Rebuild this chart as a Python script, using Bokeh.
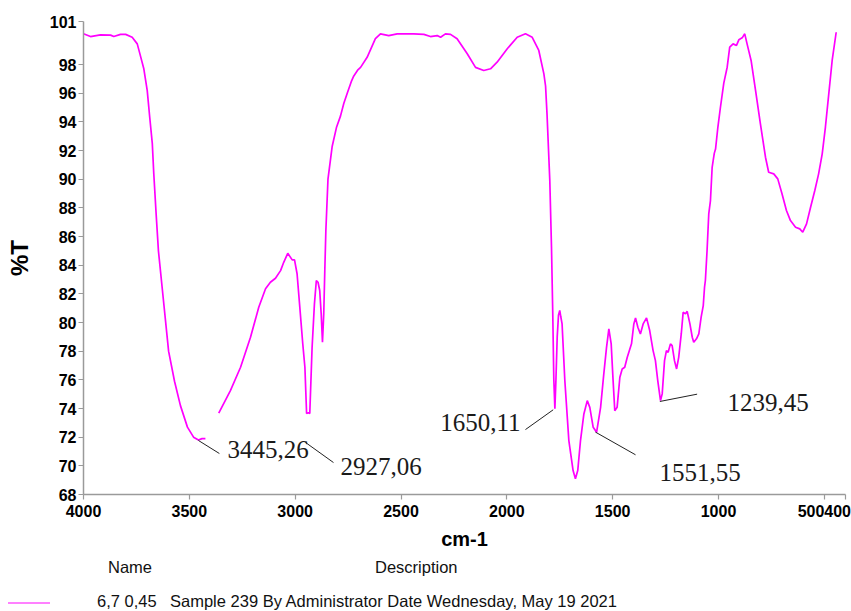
import numpy as np
from bokeh.plotting import figure
from bokeh.layouts import column
from bokeh.models import Range1d, FixedTicker, ColumnDataSource, Div
from bokeh.embed import file_html
from bokeh.resources import INLINE
from bokeh.core.properties import value

# ---- data (wavenumber cm-1, %T) ----
seg1_wn = [4000, 3967, 3920, 3872, 3857, 3825, 3801, 3770, 3746, 3731, 3715, 3699, 3687,
           3675, 3668, 3657, 3646, 3622, 3598, 3570, 3542, 3509, 3480, 3457, 3440, 3424]
seg1_t = [100.14, 99.95, 100.07, 100.05, 99.95, 100.1, 100.1, 99.9, 99.44, 98.6, 97.7, 96.2, 94.3,
          92.5, 90.4, 87.6, 85.0, 81.5, 78.0, 75.9, 74.2, 72.7, 72.0, 71.8, 71.9, 71.9]

seg2_wn = [3361, 3306, 3258, 3211, 3172, 3140, 3117, 3093, 3069, 3054, 3035, 3014, 3003, 2991,
           2978, 2964, 2954, 2946, 2938, 2931, 2920, 2909, 2900, 2892, 2884, 2877, 2871, 2865,
           2860, 2855, 2845, 2825, 2805, 2786, 2770, 2754, 2735, 2723, 2705, 2691, 2660, 2621,
           2597, 2558, 2518, 2440, 2392, 2361, 2329, 2313, 2290, 2266, 2235, 2187, 2148, 2109,
           2077, 2046, 1998, 1951, 1912, 1880, 1849, 1825, 1817, 1810, 1797, 1789, 1783, 1778,
           1773, 1768, 1762, 1756, 1750, 1745, 1739, 1726, 1707, 1687, 1676, 1665, 1652, 1636,
           1620, 1608, 1592, 1576, 1557, 1542, 1529, 1518, 1507, 1498, 1490, 1479, 1466, 1455,
           1443, 1431, 1421, 1411, 1400, 1392, 1381, 1369, 1356, 1340, 1325, 1309, 1298, 1287,
           1274, 1266, 1255, 1246, 1238, 1227, 1219, 1208, 1198, 1188, 1176, 1167, 1156, 1148,
           1135, 1124, 1117, 1104, 1093, 1082, 1072, 1066, 1062, 1054, 1046, 1038, 1030, 1020,
           1014, 1003, 991, 975, 959, 947, 931, 915, 904, 888, 876, 865, 846, 825, 802, 778,
           763, 739, 720, 700, 679, 660, 636, 616, 602, 584, 565, 545, 527, 510, 495, 479,
           463, 444]
seg2_t = [73.67, 75.25, 76.88, 78.97, 81.06, 82.35, 82.81, 83.09, 83.62, 84.2, 84.83, 84.37, 84.37, 83.4,
          81.06, 78.5, 76.88, 73.65, 73.7, 73.65, 78.27, 81.3, 82.93, 82.81, 82.23, 80.6, 78.62, 80.6,
          83.62, 86.4, 90.0, 92.3, 93.6, 94.4, 95.3, 96.0, 96.8, 97.2, 97.6, 97.8, 98.5, 99.8,
          100.14, 100.02, 100.14, 100.14, 100.1, 99.95, 100.02, 99.9, 100.14, 100.1, 99.8, 98.75, 97.8, 97.58,
          97.7, 98.16, 99.1, 99.9, 100.14, 99.9, 98.98, 97.35, 96.5, 94.5, 89.9, 85.25, 80.6, 76.0,
          73.98, 76.0, 79.0, 80.5, 80.84, 80.4, 79.9, 75.95, 71.76, 69.67, 69.1, 69.67, 71.76, 73.62,
          74.55, 74.08, 72.69, 72.34, 74.08, 76.4, 78.27, 79.56, 78.51, 75.95, 73.85, 74.08, 76.18, 76.76,
          76.88, 77.57, 78.04, 78.51, 79.9, 80.32, 79.67, 79.2, 79.9, 80.32, 79.44, 78.04, 77.34, 75.95,
          74.55, 75.02, 77.34, 78.04, 77.92, 78.51, 78.39, 77.34, 76.76, 77.57, 79.2, 80.71, 80.6, 80.78,
          79.9, 78.97, 78.62, 78.86, 79.2, 80.37, 81.18, 82.46, 82.93, 85.02, 87.58, 88.51, 90.83, 91.8,
          92.1, 93.62, 95.0, 96.7, 97.81, 99.21, 99.44, 99.33, 99.72, 99.86, 100.14, 99.44, 98.28, 96.19, 93.86, 91.53,
          90.48, 90.37, 90.02, 88.98, 87.81, 87.11, 86.65, 86.53, 86.3, 86.88, 88.04, 89.21, 90.37, 91.77, 93.62, 95.95,
          98.28, 100.25]

x_ticks = [4000, 3500, 3000, 2500, 2000, 1500, 1000, 500, 400]
x_tick_labels = {500: "500400", 400: ""}
y_ticks = [68, 70, 72, 74, 76, 78, 80, 82, 84, 86, 88, 90, 92, 94, 96, 98, 101]

# peak annotations: text, leader line (from peak to label), label anchor
peak_text = ["3445,26", "2927,06", "1650,11", "1551,55", "1239,45"]
lead_x0 = [3457, 2951, 1781, 1581, 1277]
lead_y0 = [71.77, 71.63, 73.91, 72.35, 74.49]
lead_x1 = [3358, 2819, 1912, 1392, 1101]
lead_y1 = [70.86, 70.23, 72.53, 70.77, 75.00]
text_x = [3320, 2786, 1935, 1279, 958]
text_y = [71.14, 69.95, 73.02, 69.53, 74.42]
text_align = ["left", "left", "right", "left", "left"]

legend_headers = ["Name", "Description"]
legend_name = "6,7 0,45"
legend_desc = "Sample 239 By Administrator Date Wednesday, May 19 2021"
curve_color = "#ff00ff"
legend_line_color = "#ff80ff"

SANS = "'Liberation Sans', Arial, sans-serif"
SERIF = "'Liberation Serif', 'Times New Roman', serif"

# ---- main spectrum figure ----
p = figure(width=851, height=556, output_backend="svg", toolbar_location=None,
           x_range=Range1d(4000, 400), y_range=Range1d(68, 101),
           min_border_left=83, min_border_right=6, min_border_top=21, min_border_bottom=62)
p.outline_line_color = None
p.grid.visible = False
p.background_fill_color = "white"
p.border_fill_color = "white"

wn = seg1_wn + [np.nan] + seg2_wn
tr = seg1_t + [np.nan] + seg2_t
src = ColumnDataSource(dict(x=wn, y=tr))
curve = p.line("x", "y", source=src, line_color=curve_color, line_width=1.7)

for ax in (p.xaxis[0], p.yaxis[0]):
    ax.axis_line_color = "#9a9a9a"
    ax.axis_line_width = 1.5
    ax.major_tick_line_color = "#9a9a9a"
    ax.major_tick_line_width = 1.2
    ax.major_tick_out = 5
    ax.major_tick_in = 0
    ax.minor_tick_line_color = None
    ax.major_label_text_font = SANS
    ax.major_label_text_font_style = "bold"
    ax.major_label_text_font_size = "16px"
    ax.major_label_text_color = "black"
    ax.axis_label_text_font = SANS
    ax.axis_label_text_font_style = "bold"
    ax.axis_label_text_color = "black"

p.xaxis.ticker = FixedTicker(ticks=x_ticks)
p.xaxis.major_label_overrides = x_tick_labels
p.xaxis.major_label_standoff = 5
p.xaxis.axis_label = "cm-1"
p.xaxis.axis_label_text_font_size = "20px"
p.xaxis.axis_label_standoff = 8

p.yaxis.ticker = FixedTicker(ticks=y_ticks)
p.yaxis.major_label_standoff = 2
p.yaxis.axis_label = "%T"
p.yaxis.axis_label_text_font_size = "24px"
p.yaxis.axis_label_standoff = 14

# leader lines and peak labels
p.segment(x0=lead_x0, y0=lead_y0, x1=lead_x1, y1=lead_y1, line_color="#222222", line_width=1)
tsrc = ColumnDataSource(dict(x=text_x, y=text_y, t=peak_text, a=text_align))
p.text(x="x", y="y", text="t", text_align="a", source=tsrc, text_baseline="middle",
       text_font=value(SERIF), text_font_size="25px", text_color="#1a1a1a")

# ---- legend block under the chart ----
span = "position:absolute;white-space:nowrap;line-height:19px;"
legend_html = (
    f'<div style="position:relative;width:851px;height:55px;font-family:{SANS};'
    f'font-size:16.5px;color:#111111;">'
    f'<span style="{span}left:108px;top:2px;">{legend_headers[0]}</span>'
    f'<span style="{span}left:375px;top:2px;">{legend_headers[1]}</span>'
    f'<span style="position:absolute;left:8px;top:46px;width:42px;height:0;'
    f'border-top:2px solid {legend_line_color};"></span>'
    f'<span style="{span}left:97px;top:36px;">{legend_name}</span>'
    f'<span style="{span}left:170px;top:36px;">{legend_desc}</span>'
    f'</div>'
)
legend_div = Div(text=legend_html, width=851, height=55, margin=(0, 0, 0, 0))

layout = column(p, legend_div, spacing=0)
open("out.html", "w").write(file_html(layout, INLINE))
